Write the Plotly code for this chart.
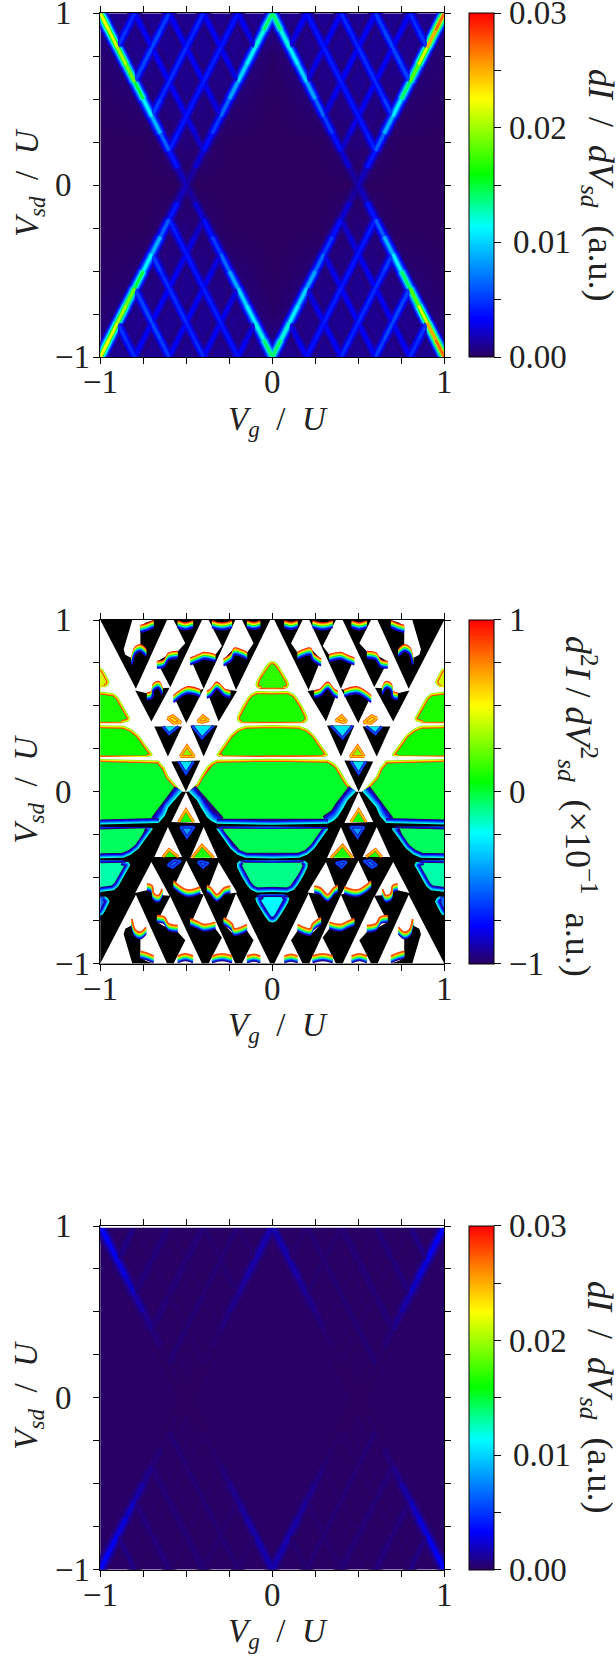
import plotly.graph_objects as go
from plotly.colors import sample_colorscale

W, H = 616, 1656
FONT = "Liberation Serif"
FS = 33
INK = "#222"
SP = "&nbsp;"

# colour scale
RAINBOW = [[0, "#2a0060"], [0.11, "#0000ff"], [0.38, "#00ffff"], [0.53, "#00ff00"],
           [0.75, "#ffff00"], [0.855, "#ff9900"], [1, "#ff0000"]]

# panel positions in pixels (left, right, top, bottom)
PLOT_L, PLOT_R = 100.3, 444.3
PANEL_TOP = [13.2, 620.0, 1226.0]
PANEL_BOT = [357.0, 963.5, 1569.5]

# --- panels 1 and 3: dI/dV ridges, upper left quadrant, mirrored below
OUTER_X = [-1, -.95, -.9, -.85, -.8, -.75, -.7, -.65, -.6, -.55, -.5]
INNER_X = [0, -.05, -.1, -.15, -.2, -.25, -.3, -.35, -.4, -.45, -.5]
KNOT_Y = [1, .9, .8, .7, .6, .5, .4, .3, .2, .1, 0]
OUTER_V_LEFT = [.023, .022, .021, .0195, .018, .012, .0105, .0075, .005, .0028, .0012]
OUTER_V_RIGHT = [.028, .026, .024, .019, .017, .0115, .0105, .0075, .005, .0028, .0012]
INNER_V = [.016, .0125, .0115, .0105, .0095, .0075, .0058, .0045, .003, .0018, .001]

F_LINES_X = [[-.9, -.85, -.8],
             [-.8, -.75, -.7, -.65, -.6],
             [-.7, -.65, -.6, -.55, -.5, -.45, -.4],
             [-.6, -.55, -.5, -.45, -.4, -.35, -.3, -.25, -.2]]
F_LINES_Y = [[.8, .9, 1],
             [.6, .7, .8, .9, 1],
             [.4, .5, .6, .7, .8, .9, 1],
             [.2, .3, .4, .5, .6, .7, .8, .9, 1]]
F_LINES_V = [[.0052, .0048, .0045],
             [.0058, .005, .006, .005, .0052],
             [.0058, .0048, .0044, .005, .0044, .0044, .0048],
             [.0048, .0036, .0042, .0036, .0042, .0042, .0042, .0036, .004]]
B_LINES_X = [[-.2, -.15, -.1],
             [-.4, -.35, -.3, -.25, -.2],
             [-.6, -.55, -.5, -.45, -.4, -.35, -.3],
             [-.8, -.75, -.7, -.65, -.6, -.55, -.5, -.45, -.4]]
B_LINES_Y = [[1, .9, .8],
             [1, .9, .8, .7, .6],
             [1, .9, .8, .7, .6, .5, .4],
             [1, .9, .8, .7, .6, .5, .4, .3, .2]]
B_LINES_V = [[.0034, .003, .0026],
             [.0034, .003, .0032, .0028, .0026],
             [.0034, .003, .0032, .003, .0032, .0028, .0026],
             [.0034, .003, .0032, .003, .0032, .003, .003, .0024, .002]]

P3_OUTER_V = [.0034, .0032, .0028, .0023, .0018, .0012, .0007, .0003, .0001, .0001, 0]
P3_INNER_V = [.0016, .0017, .0016, .0014, .0011, .0008, .0004, .0002, .0001, 0, 0]
P3_F_V = [.0007, .0006, .0005, .0004]
P3_B_V = [.0003, .0003, .0002, .0002]

BG_AXIS = [-1, -.75, -.5, -.25, 0, .25, .5, .75, 1]
BG_Z = [
    [.001, .001, .001, .001, .001, .001, .001, .001, .001],
    [.0003, .001, .001, .001, .0002, .001, .001, .001, .0003],
    [.0001, .0004, .001, .0005, 0, .0005, .001, .0004, .0001],
    [0, 0, .0006, 0, 0, 0, .0006, 0, 0],
    [0, 0, 0, 0, 0, 0, 0, 0, 0],
    [0, 0, .0006, 0, 0, 0, .0006, 0, 0],
    [.0001, .0004, .001, .0005, 0, .0005, .001, .0004, .0001],
    [.0003, .001, .001, .001, .0002, .001, .001, .001, .0003],
    [.001, .001, .001, .001, .001, .001, .001, .001, .001],
]

# --- panel 2: upper left outlines, mirrored to the right and flipped (negated) below
BLACK_X = [
    [-1, -.814, -.864, -.855, -.816, -.797, -.767, -.767, -.738, -.69, -.612, -.793],
    [-.574, -.409, -.593, -.671, -.603, -.55, -.506],
    [-.37, -.215, -.399, -.477, -.399, -.331, -.293],
    [-.176, -.012, -.211, -.283, -.221, -.147, -.109],
    [-.797, -.729, -.7, -.69, -.661, -.641, -.597, -.703],
    [-.574, -.496, -.419, -.399, -.5],
    [-.38, -.357, -.322, -.279, -.205, -.312],
    [-.686, -.525, -.607],
    [-.477, -.318, -.399],
    [-.587, -.419, -.502],
]
BLACK_Y = [
    [1, 1, .829, .797, .777, .841, .855, .961, .984, 1, 1, .599],
    [1, 1, .609, .758, .797, .816, .864],
    [1, 1, .599, .777, .81, .797, .849],
    [1, 1, .593, .771, .835, .81, .864],
    [.589, .574, .583, .628, .641, .603, .605, .409],
    [.558, .609, .593, .599, .4],
    [.583, .597, .636, .597, .587, .409],
    [.38, .38, .205],
    [.386, .386, .205],
    [.176, .182, .002],
]

CAP_X = [
    [-.816, -.797, -.767, -.734],
    [-.767, -.729, -.69],
    [-.55, -.506, -.461],
    [-.351, -.293, -.234],
    [-.147, -.109, -.07],
    [-.671, -.628, -.603, -.55],
    [-.477, -.428, -.399, -.331],
    [-.283, -.234, -.221, -.147],
    [-.729, -.7, -.69, -.661, -.641],
    [-.574, -.496, -.419],
    [-.38, -.357, -.322, -.279, -.244],
]
CAP_Y = [
    [.777, .841, .855, .826],
    [.967, .977, .994],
    [.994, .981, .994],
    [.994, .981, .994],
    [.994, .984, .994],
    [.758, .767, .806, .816],
    [.777, .797, .81, .797],
    [.771, .806, .835, .81],
    [.574, .583, .628, .641, .603],
    [.558, .609, .593],
    [.583, .597, .636, .597, .587],
]
CAP_LEVELS = [.95, .7, .45, .1, -.3, -.6, -.85]

# domes at the left edge (mirrored to the right edge), last edge is the flat base
SIDE_X = [
    [-1.03, -.985, -.971, -.946, -.955, -.971, -1.03],
    [-1.03, -.922, -.895, -.874, -.85, -.826, -.835, -.874, -1.03],
    [-1.03, -.864, -.82, -.777, -.73, -.694, -.705, -.729, -1.03],
]
SIDE_Y = [
    [.725, .715, .69, .641, .62, .609, .609],
    [.587, .574, .55, .516, .47, .428, .41, .399, .399],
    [.388, .384, .365, .331, .265, .215, .206, .203, .203],
]
SIDE_FILL_UP = [.42, .1, .08]
SIDE_FILL_DOWN = [-.55, -.14, -.05]

# domes on the centre line, left half only
CENTRE_X = [
    [0, -.02, -.041, -.06, -.079, -.092, -.099, -.09, -.066, 0],
    [0, -.089, -.125, -.147, -.18, -.205, -.205, -.186, 0],
    [0, -.157, -.205, -.244, -.29, -.326, -.315, -.293, 0],
]
CENTRE_Y = [
    [.762, .755, .729, .70, .671, .645, .622, .605, .597, .597],
    [.583, .587, .57, .545, .49, .438, .415, .399, .399],
    [.388, .384, .365, .331, .265, .215, .205, .202, .202],
]
CENTRE_FILL_UP = [.14, .1, .08]
CENTRE_FILL_DOWN = [-.25, -.1, -.04]

# the two domes that straddle y = 0, upper edge only
WAIST_SIDE_X = [-1.03, -.661, -.625, -.603, -.565, -.525]
WAIST_SIDE_Y = [.192, .182, .14, .089, .045, 0]
WAIST_CENTRE_X = [0, -.322, -.355, -.38, -.41, -.438, -.486]
WAIST_CENTRE_Y = [.192, .186, .17, .147, .1, .05, 0]
WAIST_FILL = .01

# small blobs on white in the upper half
BLOB_X = [[-.609, -.578, -.531, -.574], [-.434, -.403, -.37, -.409], [-.535, -.496, -.453]]
BLOB_Y = [[.428, .442, .403, .399], [.409, .442, .415, .405], [.205, .267, .205]]
BLOB_FILL_UP = [.55, .55, .3]
BLOB_FILL_DOWN = [-.55, -.55, -.45]

# patches inside the small black triangles of the upper half
PATCH_X = [[-.636, -.545, -.6], [-.467, -.341, -.409], [-.545, -.457, -.502]]
PATCH_Y = [[.38, .38, .337], [.384, .384, .312], [.176, .176, .105]]
PATCH_FILL_UP = [-.3, -.3, -.3]
PATCH_FILL_DOWN = [.1, .1, .1]

# edge strokes as (width in px, level); half of each shows inside the dome
POS_EDGES = [(6, .9), (4.5, .72), (3, .5), (1.6, .28)]
NEG_EDGES = [(10, -.97), (8, -.8), (6, -.6), (4, -.4), (2, -.2)]
NEG_SLOPE = [(18, -.97), (15, -.85), (12, -.7), (9, -.55), (6, -.4), (3, -.22)]
BASE_POS = [(3, .85), (1.6, .5)]
BASE_NEG = [(2.5, -.9), (1.2, -.4)]
SMALL_POS = [(3, .85), (1.5, .6)]
SMALL_NEG = [(3, -.9), (1.5, -.6)]


def rainbow(v, vmax):
    return sample_colorscale(RAINBOW, [min(max(v / vmax, 0), 1)])[0]


def c2(v):
    # values past the colour bar are drawn white and black
    if v > 1:
        return "white"
    if v < -1:
        return "black"
    return rainbow((v + 1) / 2, 1)


fig = go.Figure()


def axes(i):
    return ("x" if i == 0 else f"x{i + 1}"), ("y" if i == 0 else f"y{i + 1}")


def add_ridges(i, ridges):
    xa, ya = axes(i)
    for width, factor in [(14, .13), (11, .28), (8, .5), (5, .75), (3, 1)]:
        buckets = {}
        for xs, ys, vs in ridges:
            for sx in (1, -1):
                for sy in (1, -1):
                    vals = vs[sx == -1] if isinstance(vs, tuple) else vs
                    for k in range(len(xs) - 1):
                        key = round((vals[k] + vals[k + 1]) / 2 * factor / .00015)
                        seg = buckets.setdefault(key, ([], []))
                        seg[0].extend([sx * xs[k], sx * xs[k + 1], None])
                        seg[1].extend([sy * ys[k], sy * ys[k + 1], None])
        for key in sorted(buckets):
            fig.add_trace(go.Scatter(x=buckets[key][0], y=buckets[key][1], mode="lines",
                                     line=dict(color=rainbow(key * .00015, .03), width=width),
                                     hoverinfo="skip", showlegend=False, xaxis=xa, yaxis=ya))


def add_poly(i, xs, ys, fill=None, edges=()):
    xa, ya = axes(i)
    px = list(xs) + [xs[0]]
    py = list(ys) + [ys[0]]
    if fill is not None:
        fig.add_trace(go.Scatter(x=px, y=py, mode="lines", fill="toself", fillcolor=c2(fill),
                                 line=dict(width=0), hoverinfo="skip", showlegend=False,
                                 xaxis=xa, yaxis=ya))
    for width, v in edges:
        fig.add_trace(go.Scatter(x=px, y=py, mode="lines", line=dict(color=c2(v), width=width),
                                 hoverinfo="skip", showlegend=False, xaxis=xa, yaxis=ya))


def add_chain(i, xs, ys, edges):
    xa, ya = axes(i)
    for width, v in edges:
        fig.add_trace(go.Scatter(x=xs, y=ys, mode="lines", line=dict(color=c2(v), width=width),
                                 hoverinfo="skip", showlegend=False, xaxis=xa, yaxis=ya))


def both(xs, ys):
    # full outline from a left half that starts and ends on the centre line
    return list(xs) + [-x for x in reversed(xs)], list(ys) + list(reversed(ys))


def area(xs, ys):
    return sum(xs[k] * ys[(k + 1) % len(xs)] - xs[(k + 1) % len(xs)] * ys[k] for k in range(len(xs)))


def add_mask(i, sign, holes, fill):
    # a half panel rectangle with the domes left open, so dome edges only show inwards
    rx = [-1.05, 1.05, 1.05, -1.05]
    ry = [0, 0, 1.05 * sign, 1.05 * sign]
    if area(rx, ry) < 0:
        rx, ry = rx[::-1], ry[::-1]
    mx, my = rx + [rx[0], None], ry + [ry[0], None]
    for hx, hy in holes:
        hx, hy = list(hx), list(hy)
        if area(hx, hy) > 0:
            hx, hy = hx[::-1], hy[::-1]
        mx += hx + [hx[0], None]
        my += hy + [hy[0], None]
    xa, ya = axes(i)
    fig.add_trace(go.Scatter(x=mx, y=my, mode="lines", fill="toself", fillcolor=c2(fill),
                             line=dict(width=0), hoverinfo="skip", showlegend=False,
                             xaxis=xa, yaxis=ya))


def add_bar(y_mid, length, ticks):
    return dict(x=469 / W, xanchor="left", xpad=0, ypad=0, thickness=25, len=length / H,
                y=1 - y_mid / H, yanchor="middle", outlinewidth=1, outlinecolor="black",
                ticks="outside", ticklen=7, tickcolor="black", tickmode="array",
                tickvals=ticks, showticklabels=False)


DIDV_TICKS = [0, .005, .01, .015, .02, .025, .03]
D2_TICKS = [-1, -.75, -.5, -.25, 0, .25, .5, .75, 1]

# ---------- panel 1
fig.add_trace(go.Heatmap(x=BG_AXIS, y=BG_AXIS, z=BG_Z, zmin=0, zmax=.03, zsmooth="best",
                         colorscale=RAINBOW, hoverinfo="skip", xaxis="x", yaxis="y",
                         colorbar=add_bar(185, 344, DIDV_TICKS)))
ridges1 = [(OUTER_X, KNOT_Y, (OUTER_V_LEFT, OUTER_V_RIGHT)), (INNER_X, KNOT_Y, INNER_V)]
for a, b, c in zip(B_LINES_X, B_LINES_Y, B_LINES_V):
    ridges1.append((a, b, c))
for a, b, c in zip(F_LINES_X, F_LINES_Y, F_LINES_V):
    ridges1.append((a, b, c))
add_ridges(0, ridges1)

# ---------- panel 2
fig.add_trace(go.Heatmap(x=[-.1, .1], y=[.02, .1], z=[[.02]], zmin=-1, zmax=1,
                         colorscale=RAINBOW, hoverinfo="skip", xaxis="x2", yaxis="y2",
                         colorbar=add_bar(791.7, 343.5, D2_TICKS)))

# dome fills and edges first, the masks then cut away what falls outside them
for sx in (1, -1):
    add_poly(1, [sx * x for x in WAIST_SIDE_X] + [sx * x for x in WAIST_SIDE_X[::-1]],
             WAIST_SIDE_Y + [-y for y in WAIST_SIDE_Y[::-1]], fill=WAIST_FILL)
wx, wy = both(WAIST_CENTRE_X, WAIST_CENTRE_Y)
add_poly(1, wx + wx[::-1], wy + [-y for y in wy[::-1]], fill=WAIST_FILL)

for sign in (1, -1):
    edges = POS_EDGES if sign > 0 else NEG_EDGES
    slope = POS_EDGES if sign > 0 else NEG_SLOPE
    base = BASE_POS if sign > 0 else BASE_NEG
    holes = []
    for sx in (1, -1):
        for xs, ys, fu, fd in zip(SIDE_X, SIDE_Y, SIDE_FILL_UP, SIDE_FILL_DOWN):
            hx, hy = [sx * x for x in xs], [sign * y for y in ys]
            add_poly(1, hx, hy, fill=fu if sign > 0 else fd, edges=base)
            add_chain(1, hx[:-1], hy[:-1], edges)
            holes.append((hx, hy))
        hx, hy = [sx * x for x in WAIST_SIDE_X], [sign * y for y in WAIST_SIDE_Y]
        add_chain(1, hx[1:], hy[1:], slope)
        add_chain(1, hx[:2], hy[:2], edges)
        holes.append((hx + [sx * -1.03], hy + [0]))
    for xs, ys, fu, fd in zip(CENTRE_X, CENTRE_Y, CENTRE_FILL_UP, CENTRE_FILL_DOWN):
        hx, hy = both(xs, ys)
        hy = [sign * y for y in hy]
        add_poly(1, hx, hy, fill=fu if sign > 0 else fd, edges=base)
        tx, ty = both(xs[:-1][::-1], ys[:-1][::-1])
        add_chain(1, tx, [sign * y for y in ty], edges)
        holes.append((hx, hy))
    hx, hy = both(WAIST_CENTRE_X[::-1], WAIST_CENTRE_Y[::-1])
    hy = [sign * y for y in hy]
    n_pts = len(WAIST_CENTRE_X)
    add_chain(1, hx[:n_pts - 1], hy[:n_pts - 1], slope)
    add_chain(1, hx[n_pts + 1:], hy[n_pts + 1:], slope)
    add_chain(1, hx[n_pts - 2:n_pts + 2], hy[n_pts - 2:n_pts + 2], edges)
    holes.append((hx, hy))
    add_mask(1, sign, holes, 2 * sign)

for sign in (1, -1):
    for sx in (1, -1):
        for xs, ys in zip(BLACK_X, BLACK_Y):
            add_poly(1, [sx * x for x in xs], [sign * y for y in ys], fill=-2 * sign)
    # cap bands grouped by level
    for n, lev in enumerate(CAP_LEVELS):
        cx, cy = [], []
        for sx in (1, -1):
            for xs, ys in zip(CAP_X, CAP_Y):
                cx += [sx * x for x in xs] + [None]
                cy += [sign * (y - n * .0062) for y in ys] + [None]
        fig.add_trace(go.Scatter(x=cx, y=cy, mode="lines", hoverinfo="skip", showlegend=False,
                                 line=dict(color=c2(sign * lev), width=1.8, shape="spline"),
                                 xaxis="x2", yaxis="y2"))
    for sx in (1, -1):
        for xs, ys, fu, fd in zip(BLOB_X, BLOB_Y, BLOB_FILL_UP, BLOB_FILL_DOWN):
            add_poly(1, [sx * x for x in xs], [sign * y for y in ys],
                     fill=fu if sign > 0 else fd, edges=SMALL_POS if sign > 0 else SMALL_NEG)
        for xs, ys, fu, fd in zip(PATCH_X, PATCH_Y, PATCH_FILL_UP, PATCH_FILL_DOWN):
            px, py = [sx * x for x in xs], [sign * y for y in ys]
            add_poly(1, px, py, fill=fu if sign > 0 else fd)
            add_chain(1, [px[1], px[2], px[0]], [py[1], py[2], py[0]],
                      SMALL_NEG if sign > 0 else SMALL_POS)

# ---------- panel 3
fig.add_trace(go.Heatmap(x=[-1.02, 1.02], y=[-1.02, 1.02], z=[[.0001]], zmin=0, zmax=.03,
                         colorscale=RAINBOW, hoverinfo="skip", xaxis="x3", yaxis="y3",
                         colorbar=add_bar(1397.7, 343.5, DIDV_TICKS)))
ridges3 = [(OUTER_X, KNOT_Y, P3_OUTER_V), (INNER_X, KNOT_Y, P3_INNER_V)]
for a, b, v in zip(B_LINES_X, B_LINES_Y, P3_B_V):
    ridges3.append((a, b, [v] * len(a)))
for a, b, v in zip(F_LINES_X, F_LINES_Y, P3_F_V):
    ridges3.append((a, b, [v] * len(a)))
add_ridges(2, ridges3)
add_poly(2, [-1.02, 1.02, 1.02, -1.02], [.99, .99, 1.02, 1.02], fill=2)

# ---------- axes and text
layout = dict(width=W, height=H, margin=dict(l=0, r=0, t=0, b=0, autoexpand=False),
              plot_bgcolor="white", paper_bgcolor="white", showlegend=False)
annots = []
TICK_ALL = [-1, -.75, -.5, -.25, 0, .25, .5, .75, 1]
V_TEXT = f"<i>V</i><sub><i>g</i></sub>{SP}{SP}/{SP}{SP}<i>U</i>"
VSD_TEXT = f"<i>V</i><sub><i>sd</i></sub>{SP}{SP}/{SP}{SP}<i>U</i>"
DIDV_TEXT = f"<i>dI</i>{SP}{SP}/{SP}{SP}<i>dV</i><sub><i>sd</i></sub>{SP}{SP}(a.u.)"
D2_TEXT = (f"<i>d</i><sup>2</sup><i>I</i>{SP}/{SP}<i>dV</i><sup>2</sup><sub><i>sd</i></sub>"
           f"{SP}{SP}(×10<sup>−1</sup>{SP}{SP}a.u.)")
BAR_TITLES = [DIDV_TEXT, D2_TEXT, DIDV_TEXT]
BAR_TITLE_X = [598, 578, 598]
BAR_TITLE_Y = [185, 806, 1397]
BAR_LABELS = [["0.00", "0.01", "0.02", "0.03"], ["−1", "0", "1"], ["0.00", "0.01", "0.02", "0.03"]]
BAR_LABEL_AT = [[0, 1 / 3, 2 / 3, 1], [0, .5, 1], [0, 1 / 3, 2 / 3, 1]]
for i in range(3):
    xa, ya = axes(i)
    xkey = "xaxis" if i == 0 else f"xaxis{i + 1}"
    ykey = "yaxis" if i == 0 else f"yaxis{i + 1}"
    top, bot = PANEL_TOP[i], PANEL_BOT[i]
    common = dict(range=[-1, 1], showgrid=False, zeroline=False, showline=True, linecolor="black",
                  linewidth=1, mirror="ticks", ticks="outside", ticklen=6, tickcolor="black",
                  tickwidth=1, tickmode="array", tickvals=TICK_ALL, showticklabels=False)
    layout[xkey] = dict(common, domain=[PLOT_L / W, PLOT_R / W], anchor=ya)
    layout[ykey] = dict(common, domain=[1 - bot / H, 1 - top / H], anchor=xa)
    for val, txt in zip([1, 0, -1], ["1", "0", "−1"]):
        annots.append(dict(x=53 / W, xref="paper", xanchor="left", yanchor="middle", y=val, yref=ya,
                           text=txt, showarrow=False, font=dict(family=FONT, size=FS, color=INK)))
        annots.append(dict(x=val, xref=xa, xanchor="center", yanchor="middle",
                           y=1 - (bot + 25) / H, yref="paper", text=txt,
                           showarrow=False, font=dict(family=FONT, size=FS, color=INK)))
    for frac, txt in zip(BAR_LABEL_AT[i], BAR_LABELS[i]):
        annots.append(dict(x=(511 if txt == "0.01" else 507) / W, xref="paper", xanchor="left",
                           yanchor="middle", y=1 - (bot - frac * (bot - top)) / H, yref="paper",
                           text=txt, showarrow=False, font=dict(family=FONT, size=FS, color=INK)))
    mid = (top + bot) / 2
    annots.append(dict(x=278 / W, xref="paper", xanchor="center", yanchor="middle",
                       y=1 - (bot + 64) / H, yref="paper", text=V_TEXT,
                       showarrow=False, font=dict(family=FONT, size=33, color=INK)))
    annots.append(dict(x=29 / W, xref="paper", xanchor="center", yanchor="middle",
                       y=1 - (mid - 2) / H, yref="paper", text=VSD_TEXT,
                       textangle=-90, showarrow=False, font=dict(family=FONT, size=33, color=INK)))
    annots.append(dict(x=BAR_TITLE_X[i] / W, xref="paper", xanchor="center", yanchor="middle",
                       y=1 - BAR_TITLE_Y[i] / H, yref="paper",
                       text=BAR_TITLES[i], textangle=90, showarrow=False,
                       font=dict(family=FONT, size=36, color=INK)))
layout["annotations"] = annots
fig.update_layout(**layout)

fig.write_html("out.html", config={"displayModeBar": False},
               post_script="document.body.style.margin='0';")
